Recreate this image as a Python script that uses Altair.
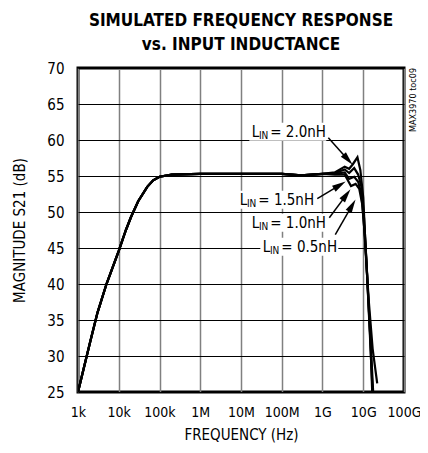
import math
import altair as alt
import pandas as pd

# ---------------- data ----------------
common_f = [1e3, 2e3, 3e3, 5e3, 1e4, 1.5e4, 2e4, 3e4, 5e4, 7e4, 1e5, 2e5, 1e6, 1e7, 1e8, 3e8, 1e9]
common_db = [25, 32, 36, 40, 44.6, 47.5, 49.3, 51.5, 53.5, 54.4, 54.9, 55.2, 55.3, 55.3, 55.3, 55.1, 55.3]

series_names = ["2.0nH", "1.5nH", "1.0nH", "0.5nH"]
hf_f = {
    "2.0nH": [2e9, 3.5e9, 4.5e9, 5.5e9, 7.2e9, 8.5e9, 1e10, 1.1e10, 1.3e10, 1.5e10, 1.66e10],
    "1.5nH": [2e9, 3.5e9, 4.5e9, 6e9, 7.5e9, 9e9, 1.05e10, 1.2e10, 1.4e10, 1.6e10, 1.7e10],
    "1.0nH": [2e9, 3.5e9, 4.5e9, 6e9, 7.5e9, 9e9, 1.05e10, 1.25e10, 1.45e10, 1.7e10, 1.75e10],
    "0.5nH": [2e9, 3.5e9, 5e9, 6.5e9, 8e9, 9.5e9, 1.1e10, 1.35e10, 1.7e10, 2.2e10],
}
hf_db = {
    "2.0nH": [55.5, 56.3, 56.0, 56.6, 57.6, 55.8, 52, 47, 39, 32, 25],
    "1.5nH": [55.4, 55.9, 55.4, 56.1, 55.2, 53.5, 49, 43, 35, 28, 25],
    "1.0nH": [55.3, 55.5, 54.6, 54.9, 54.2, 52.5, 48, 41, 34, 26.5, 25],
    "0.5nH": [55.2, 55.2, 53.6, 53.9, 53.2, 51, 46.5, 38, 31, 26.2],
}

x_ticks = [1e3, 1e4, 1e5, 1e6, 1e7, 1e8, 1e9, 1e10, 1e11]
x_tick_labels = ["1k", "10k", "100k", "1M", "10M", "100M", "1G", "10G", "100G"]
y_ticks = [25, 30, 35, 40, 45, 50, 55, 60, 65, 70]

# annotation labels (anchor = start of "= ..." text)
label_text = ["= 2.0nH", "= 1.5nH", "= 1.0nH", "= 0.5nH"]
label_f = [4.94e7, 2.51e7, 4.94e7, 9.21e7]
label_db = [61.15, 51.71, 48.51, 45.18]
label_left_f = [1.6e7, 8.1e6, 1.6e7, 2.98e7]
label_right_f = [1.24e9, 7.05e8, 1.24e9, 2.44e9]

# arrows
arrow_start_f = [1.39e9, 7.45e8, 1.47e9, 2.06e9]
arrow_start_db = [60.3, 51.85, 49.2, 46.85]
arrow_tip_f = [5.4e9, 3.63e9, 4.8e9, 6.4e9]
arrow_tip_db = [56.6, 54.2, 53.1, 51.7]

# ---------------- layout ----------------
W, H = 326, 324
X_DOM = [1e3, 1e11]
Y_DOM = [25, 70]
px_per_dec = W / (math.log10(X_DOM[1]) - math.log10(X_DOM[0]))
px_per_db = H / (Y_DOM[1] - Y_DOM[0])

FONT = "Liberation Sans Narrow, DejaVu Sans Condensed, Liberation Sans, sans-serif"

rows = []
for s in series_names:
    for f, d in zip(common_f + hf_f[s], common_db + hf_db[s]):
        rows.append({"series": s, "f": f, "db": d})
curves = pd.DataFrame(rows)

labels = pd.DataFrame({"text": label_text, "f": label_f, "db": label_db,
                       "f1": label_left_f, "f2": label_right_f,
                       "db1": [d - 1.25 for d in label_db], "db2": [d + 1.25 for d in label_db]})

head_len = 6.5
arr_rows = []
for sf, sd, tf, td in zip(arrow_start_f, arrow_start_db, arrow_tip_f, arrow_tip_db):
    dx = (math.log10(tf) - math.log10(sf)) * px_per_dec
    dy = -(td - sd) * px_per_db
    L = math.hypot(dx, dy)
    ux, uy = dx / L, dy / L
    ang = math.degrees(math.atan2(ux, -uy)) % 360
    cf = 10 ** (math.log10(tf) - ux * head_len / px_per_dec)
    cd = td + uy * head_len / px_per_db
    arr_rows.append({"f": sf, "db": sd, "f2": cf, "db2": cd, "angle": ang})
arrows = pd.DataFrame(arr_rows)

xscale = alt.Scale(type="log", domain=X_DOM, nice=False)
yscale = alt.Scale(domain=Y_DOM, nice=False, zero=False)

label_expr = "[" + ",".join(f"'{t}'" for t in x_tick_labels) + "][round(log(datum.value)/LN10) - 3]"

xaxis = alt.Axis(values=x_ticks, labelExpr=label_expr, title="FREQUENCY (Hz)",
                 grid=True, gridColor="#808080", gridWidth=1.5, gridOpacity=1,
                 ticks=False, domain=False, labelPadding=13, titlePadding=8,
                 labelFont=FONT, labelFontSize=14, labelColor="black", labelOverlap=False,
                 titleFont=FONT, titleFontSize=15, titleFontWeight="normal", titleColor="black",
                 labelFlush=False)
yaxis = alt.Axis(values=y_ticks, title="MAGNITUDE S21 (dB)",
                 grid=True, gridColor="black", gridWidth=1, gridOpacity=1,
                 ticks=False, domain=False, labelPadding=14, titlePadding=19,
                 labelFont=FONT, labelFontSize=15, labelColor="black", labelOverlap=False,
                 titleFont=FONT, titleFontSize=15, titleFontWeight="normal", titleColor="black")


def nx(field):
    return alt.X(field, scale=xscale, axis=xaxis)


def ny(field):
    return alt.Y(field, scale=yscale, axis=yaxis)


lines = alt.Chart(curves).mark_line(color="black", strokeWidth=2.2, clip=True).encode(
    x=nx("f:Q"), y=ny("db:Q"), detail="series:N", order="f:Q")

rects = alt.Chart(labels).mark_rect(color="white").encode(
    x=nx("f1:Q"), x2="f2:Q", y=ny("db1:Q"), y2="db2:Q")

txt_main = alt.Chart(labels).mark_text(align="left", baseline="middle", dx=1,
                                       font=FONT, fontSize=15, color="black").encode(
    x=nx("f:Q"), y=ny("db:Q"), text="text:N")
txt_L = alt.Chart(labels).mark_text(align="right", baseline="middle", dx=-10,
                                    font=FONT, fontSize=15, color="black").encode(
    x=nx("f:Q"), y=ny("db:Q"), text=alt.value("L"))
txt_IN = alt.Chart(labels).mark_text(align="right", baseline="middle", dx=-1, dy=4,
                                     font=FONT, fontSize=10, color="black").encode(
    x=nx("f:Q"), y=ny("db:Q"), text=alt.value("IN"))

arrow_lines = alt.Chart(arrows).mark_rule(color="black", strokeWidth=1.5).encode(
    x=nx("f:Q"), y=ny("db:Q"), x2="f2:Q", y2="db2:Q")
arrow_heads = alt.Chart(arrows).mark_point(
    shape="M0,-1L0.5,1L-0.5,1Z", filled=True, color="black", opacity=1, size=190).encode(
    x=nx("f2:Q"), y=ny("db2:Q"), angle=alt.Angle("angle:Q", scale=None))

note = alt.Chart(pd.DataFrame({"t": ["MAX3970 toc09"]})).mark_text(
    angle=270, align="center", baseline="middle", font=FONT, fontSize=9, color="black").encode(
    x=alt.value(W + 9), y=alt.value(32), text="t:N")

chart = alt.layer(lines, rects, txt_main, txt_L, txt_IN, arrow_lines, arrow_heads, note).properties(
    width=W, height=H,
    title=alt.TitleParams(["SIMULATED FREQUENCY RESPONSE", "vs. INPUT INDUCTANCE"],
                          font=FONT, fontSize=17, fontWeight="bold", color="black",
                          anchor="middle", lineHeight=24, offset=7),
    autosize=alt.AutoSizeParams(type="none"),
    padding={"left": 70, "top": 60, "right": 16, "bottom": 53},
).configure_view(stroke="black", strokeWidth=3)

chart.save("out.html", embed_options={"renderer": "svg", "actions": False})
